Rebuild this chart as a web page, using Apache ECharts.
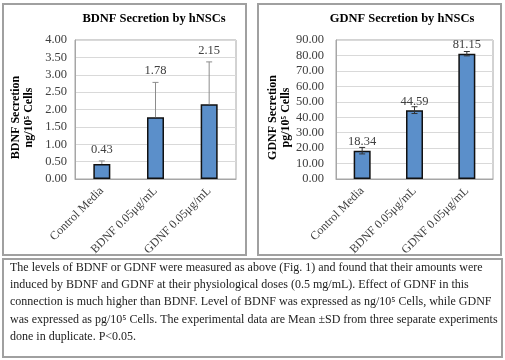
<!DOCTYPE html>
<html><head><meta charset="utf-8">
<script src="https://cdn.jsdelivr.net/npm/echarts@6/dist/echarts.min.js"></script>
<style>html,body{margin:0;padding:0;background:#fff}#c{width:505px;height:360px}</style>
</head><body><div id="c"></div>
<script>
const categories = ['Control Media', 'BDNF 0.05μg/mL', 'GDNF 0.05μg/mL'];
const bdnfValues = [0.43, 1.78, 2.15];
const bdnfErrors = [0.09, 1.0, 1.22];
const gdnfValues = [18.34, 44.59, 81.15];
const gdnfErrors = [2.1, 2.2, 1.4];
const bdnfTitle = 'BDNF Secretion by hNSCs';
const gdnfTitle = 'GDNF Secretion by hNSCs';
const bdnfAxisName = 'BDNF Secretion\nng/10⁵ Cells';
const gdnfAxisName = 'GDNF Secretion\npg/10⁵ Cells';
const captionLines = [
  'The levels of BDNF or GDNF were measured as above (Fig. 1) and found that their amounts were',
  'induced by BDNF and GDNF at their physiological doses (0.5 mg/mL). Effect of GDNF in this',
  'connection is much higher than BDNF. Level of BDNF was expressed as ng/10⁵ Cells, while GDNF',
  'was expressed as pg/10⁵ Cells. The experimental data are Mean ±SD from three separate experiments',
  'done in duplicate. P<0.05.'
];

const SERIF = '"Liberation Serif", "DejaVu Serif", serif';
const chart = echarts.init(document.getElementById('c'), null, {renderer: 'canvas'});

function errItem(upOnly, color, showLabel) {
  return function (params, api) {
    const i = api.value(0), v = api.value(1), e = api.value(2);
    const top = api.coord([i, v + e]);
    const bot = api.coord([i, upOnly ? v : v - e]);
    const cw = 3;
    const st = {stroke: color, lineWidth: 1};
    const children = [
      {type: 'line', shape: {x1: top[0], y1: top[1], x2: bot[0], y2: bot[1]}, style: st},
      {type: 'line', shape: {x1: top[0] - cw, y1: top[1], x2: top[0] + cw, y2: top[1]}, style: st}
    ];
    if (!upOnly) children.push({type: 'line', shape: {x1: bot[0] - cw, y1: bot[1], x2: bot[0] + cw, y2: bot[1]}, style: st});
    if (showLabel) children.push({type: 'text', style: {text: v.toFixed(2), x: top[0], y: top[1] - 5, align: 'center', verticalAlign: 'bottom', font: '12.5px ' + SERIF, fill: '#404040'}});
    return {type: 'group', children};
  };
}

const axisLabelStyle = {fontFamily: SERIF, fontSize: 12.5, color: '#404040'};
const nameStyle = {fontFamily: SERIF, fontSize: 12, fontWeight: 'bold', color: '#000', lineHeight: 13, padding: [0, 16, 0, 0]};

chart.setOption({
  animation: false,
  textStyle: {fontFamily: SERIF},
  grid: [
    {left: 75, top: 40, width: 161, height: 139, show: true, borderColor: '#a6a6a6', borderWidth: 1},
    {left: 336, top: 40, width: 157, height: 139, show: true, borderColor: '#a6a6a6', borderWidth: 1}
  ],
  xAxis: [0, 1].map(g => ({
    type: 'category', gridIndex: g, data: categories,
    axisLine: {lineStyle: {color: '#a6a6a6'}}, axisTick: {show: false},
    axisLabel: Object.assign({rotate: 45, margin: 10, interval: 0}, axisLabelStyle, {fontSize: 12})
  })),
  yAxis: [
    {type: 'value', gridIndex: 0, min: 0, max: 4, interval: 0.5,
     name: bdnfAxisName, nameLocation: 'middle', nameRotate: 90, nameGap: 40, nameTextStyle: nameStyle,
     axisLine: {show: true, lineStyle: {color: '#a6a6a6'}}, axisTick: {show: false},
     splitLine: {lineStyle: {color: '#d9d9d9'}},
     axisLabel: Object.assign({formatter: v => v.toFixed(2), margin: 8}, axisLabelStyle)},
    {type: 'value', gridIndex: 1, min: 0, max: 90, interval: 10,
     name: gdnfAxisName, nameLocation: 'middle', nameRotate: 90, nameGap: 44, nameTextStyle: nameStyle,
     axisLine: {show: true, lineStyle: {color: '#a6a6a6'}}, axisTick: {show: false},
     splitLine: {lineStyle: {color: '#d9d9d9'}},
     axisLabel: Object.assign({formatter: v => v.toFixed(2), margin: 12}, axisLabelStyle)}
  ],
  series: [
    {type: 'bar', xAxisIndex: 0, yAxisIndex: 0, data: bdnfValues, barWidth: 17,
     itemStyle: {color: '#5b8fca', borderColor: '#111', borderWidth: 1.5}},
    {type: 'custom', xAxisIndex: 0, yAxisIndex: 0, renderItem: errItem(true, '#8c8c8c', true),
     data: bdnfValues.map((v, i) => [i, v, bdnfErrors[i]]), z: 5},
    {type: 'bar', xAxisIndex: 1, yAxisIndex: 1, data: gdnfValues, barWidth: 17,
     itemStyle: {color: '#5b8fca', borderColor: '#111', borderWidth: 1.5},
     label: {show: true, position: 'top', distance: 2, formatter: p => p.value.toFixed(2), fontFamily: SERIF, fontSize: 12.5, color: '#404040'}},
    {type: 'custom', xAxisIndex: 1, yAxisIndex: 1, renderItem: errItem(false, '#333', false),
     data: gdnfValues.map((v, i) => [i, v, gdnfErrors[i]]), z: 5}
  ],
  graphic: [
    {type: 'rect', shape: {x: 3, y: 4, width: 243, height: 251}, style: {fill: 'none', stroke: '#a0a0a0', lineWidth: 2}, z: -1},
    {type: 'rect', shape: {x: 258, y: 4, width: 243, height: 251}, style: {fill: 'none', stroke: '#a0a0a0', lineWidth: 2}, z: -1},
    {type: 'rect', shape: {x: 3, y: 259, width: 499, height: 98}, style: {fill: 'none', stroke: '#a0a0a0', lineWidth: 2}, z: -1},
    {type: 'text', x: 154, y: 19, style: {text: bdnfTitle, font: 'bold 12.5px ' + SERIF, fill: '#000', align: 'center', verticalAlign: 'middle'}},
    {type: 'text', x: 402, y: 19, style: {text: gdnfTitle, font: 'bold 12.5px ' + SERIF, fill: '#000', align: 'center', verticalAlign: 'middle'}},
    {type: 'text', left: 10, top: 259, style: {text: captionLines.join('\n'), font: '12px ' + SERIF, lineHeight: 17.3, fill: '#222'}}
  ]
});
</script></body></html>
